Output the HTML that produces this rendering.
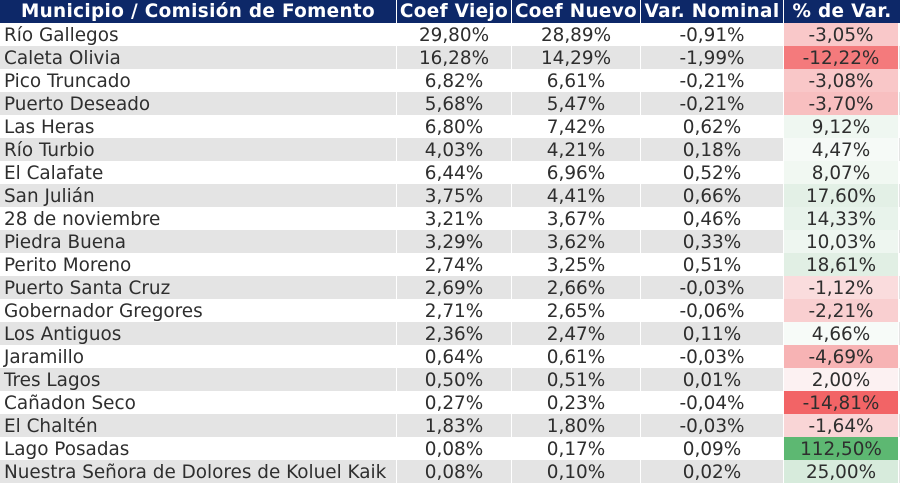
<!DOCTYPE html>
<html>
<head>
<meta charset="utf-8">
<style>
  html,body{margin:0;padding:0;background:#fff;}
  body{width:900px;height:485px;overflow:hidden;position:relative;
       font-family:"DejaVu Sans","Liberation Sans",sans-serif;}
  .row{position:absolute;left:0;width:900px;height:23px;display:flex;}
  .row div{height:23px;line-height:25px;white-space:nowrap;overflow:hidden;
           font-size:18.4px;color:#2e2e2e;text-align:center;box-sizing:border-box;}
  .c1{width:397px;border-right:1px solid #fff;text-align:left !important;padding-left:4px;}
  .c2{width:115px;border-right:1px solid #fff;}
  .c3{width:129px;border-right:1px solid #fff;}
  .c4{width:143px;border-right:1px solid #fff;}
  .c5{width:115px;border-right:1px solid #fff;}
  .hdr{top:0;background:#0d2868;}
  .hdr div{color:#fff;font-weight:bold;letter-spacing:0.35px;font-size:18.4px;line-height:23px;}
  .hdr .c1{text-align:center !important;padding-left:0;}
  .g{background:#e4e4e4;}
</style>
</head>
<body>
<div class="row hdr"><div class="c1">Municipio / Comisión de Fomento</div><div class="c2">Coef Viejo</div><div class="c3">Coef Nuevo</div><div class="c4">Var. Nominal</div><div class="c5" style="border-right:none;width:116px">% de Var.</div></div>

<div class="row" style="top:23px"><div class="c1">Río Gallegos</div><div class="c2">29,80%</div><div class="c3">28,89%</div><div class="c4">-0,91%</div><div class="c5" style="background:#f9c8c9">-3,05%</div></div>
<div class="row g" style="top:46px"><div class="c1">Caleta Olivia</div><div class="c2">16,28%</div><div class="c3">14,29%</div><div class="c4">-1,99%</div><div class="c5" style="background:#f47a7c">-12,22%</div></div>
<div class="row" style="top:69px"><div class="c1">Pico Truncado</div><div class="c2">6,82%</div><div class="c3">6,61%</div><div class="c4">-0,21%</div><div class="c5" style="background:#f9c7c8">-3,08%</div></div>
<div class="row g" style="top:92px"><div class="c1">Puerto Deseado</div><div class="c2">5,68%</div><div class="c3">5,47%</div><div class="c4">-0,21%</div><div class="c5" style="background:#f8bfc0">-3,70%</div></div>
<div class="row" style="top:115px"><div class="c1">Las Heras</div><div class="c2">6,80%</div><div class="c3">7,42%</div><div class="c4">0,62%</div><div class="c5" style="background:#eff7f1">9,12%</div></div>
<div class="row g" style="top:138px"><div class="c1">Río Turbio</div><div class="c2">4,03%</div><div class="c3">4,21%</div><div class="c4">0,18%</div><div class="c5" style="background:#f6faf7">4,47%</div></div>
<div class="row" style="top:161px"><div class="c1">El Calafate</div><div class="c2">6,44%</div><div class="c3">6,96%</div><div class="c4">0,52%</div><div class="c5" style="background:#f1f8f2">8,07%</div></div>
<div class="row g" style="top:184px"><div class="c1">San Julián</div><div class="c2">3,75%</div><div class="c3">4,41%</div><div class="c4">0,66%</div><div class="c5" style="background:#e3f0e6">17,60%</div></div>
<div class="row" style="top:207px"><div class="c1">28 de noviembre</div><div class="c2">3,21%</div><div class="c3">3,67%</div><div class="c4">0,46%</div><div class="c5" style="background:#e8f3eb">14,33%</div></div>
<div class="row g" style="top:230px"><div class="c1">Piedra Buena</div><div class="c2">3,29%</div><div class="c3">3,62%</div><div class="c4">0,33%</div><div class="c5" style="background:#eef6f0">10,03%</div></div>
<div class="row" style="top:253px"><div class="c1">Perito Moreno</div><div class="c2">2,74%</div><div class="c3">3,25%</div><div class="c4">0,51%</div><div class="c5" style="background:#e1efe4">18,61%</div></div>
<div class="row g" style="top:276px"><div class="c1">Puerto Santa Cruz</div><div class="c2">2,69%</div><div class="c3">2,66%</div><div class="c4">-0,03%</div><div class="c5" style="background:#fadcdd">-1,12%</div></div>
<div class="row" style="top:299px"><div class="c1">Gobernador Gregores</div><div class="c2">2,71%</div><div class="c3">2,65%</div><div class="c4">-0,06%</div><div class="c5" style="background:#f9cfd0">-2,21%</div></div>
<div class="row g" style="top:322px"><div class="c1">Los Antiguos</div><div class="c2">2,36%</div><div class="c3">2,47%</div><div class="c4">0,11%</div><div class="c5" style="background:#f7fbf8">4,66%</div></div>
<div class="row" style="top:345px"><div class="c1">Jaramillo</div><div class="c2">0,64%</div><div class="c3">0,61%</div><div class="c4">-0,03%</div><div class="c5" style="background:#f7b3b4">-4,69%</div></div>
<div class="row g" style="top:368px"><div class="c1">Tres Lagos</div><div class="c2">0,50%</div><div class="c3">0,51%</div><div class="c4">0,01%</div><div class="c5" style="background:#fcf1f2">2,00%</div></div>
<div class="row" style="top:391px"><div class="c1">Cañadon Seco</div><div class="c2">0,27%</div><div class="c3">0,23%</div><div class="c4">-0,04%</div><div class="c5" style="background:#f26466">-14,81%</div></div>
<div class="row g" style="top:414px"><div class="c1">El Chaltén</div><div class="c2">1,83%</div><div class="c3">1,80%</div><div class="c4">-0,03%</div><div class="c5" style="background:#f9d5d6">-1,64%</div></div>
<div class="row" style="top:437px"><div class="c1">Lago Posadas</div><div class="c2">0,08%</div><div class="c3">0,17%</div><div class="c4">0,09%</div><div class="c5" style="background:#5db872">112,50%</div></div>
<div class="row g" style="top:460px"><div class="c1">Nuestra Señora de Dolores de Koluel Kaik</div><div class="c2">0,08%</div><div class="c3">0,10%</div><div class="c4">0,02%</div><div class="c5" style="background:#d7ebdc">25,00%</div></div>
</body>
</html>
